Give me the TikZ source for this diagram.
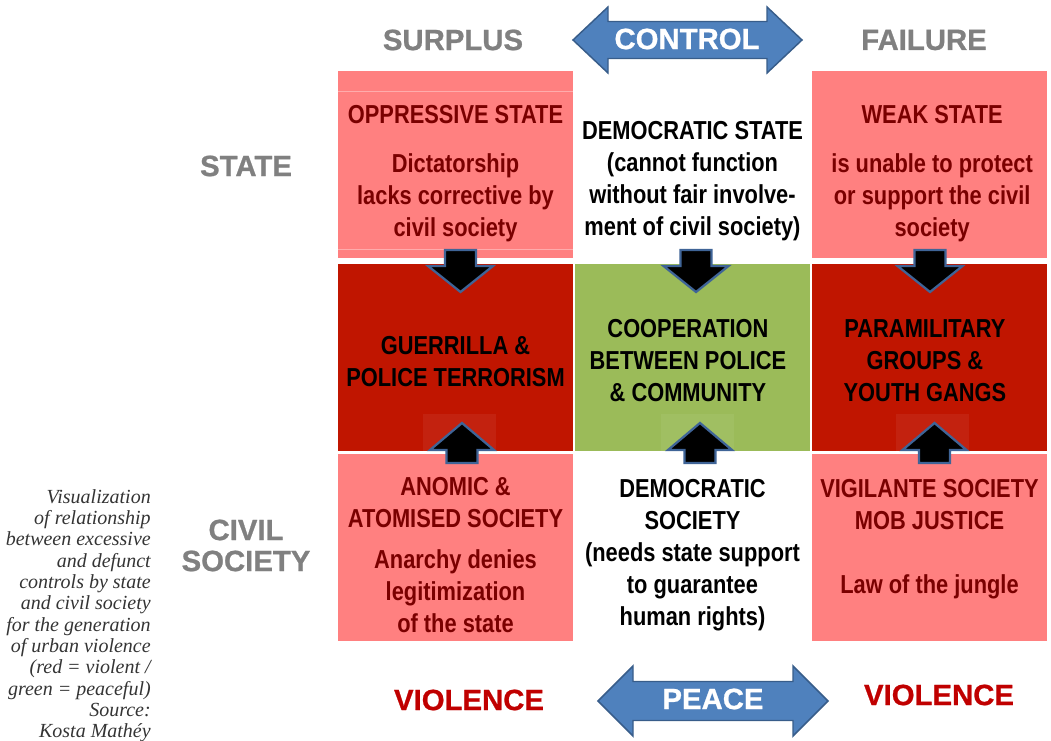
\documentclass[tikz,border=0pt]{standalone}
\usepackage{fontspec}
\setmainfont{Liberation Sans}
\newfontfamily\narrowfont[FakeStretch=0.84]{Liberation Sans}
\newfontfamily\headfont[BoldFeatures={FakeBold=0.8}]{Liberation Sans}
\newfontfamily\notefont{Liberation Serif}
\usepackage{tikz}
\usetikzlibrary{matrix,positioning,calc}

\definecolor{softred}{RGB}{255,128,128}
\definecolor{hardred}{RGB}{192,21,0}
\definecolor{calmgreen}{RGB}{155,187,89}
\definecolor{darkwine}{RGB}{122,0,0}
\definecolor{violred}{RGB}{192,0,0}
\definecolor{headgray}{RGB}{128,128,128}
\definecolor{arrowblue}{RGB}{79,129,189}
\definecolor{arrowedge}{RGB}{56,93,138}
\definecolor{tipedge}{RGB}{63,100,151}
\definecolor{notegray}{RGB}{52,52,52}
\definecolor{seamred}{RGB}{255,172,172}

\tikzset{
  cellbox/.style={minimum width=176.25pt, minimum height=140.25pt, inner sep=0pt, outer sep=0pt, anchor=center},
  softcell/.style={fill=softred},
  hardcell/.style={fill=hardred},
  calmcell/.style={fill=calmgreen},
  plaincell/.style={fill=white},
  celltext/.style={align=center, inner sep=0pt, font=\narrowfont\bfseries\fontsize{19.5}{24}\selectfont},
  headline/.style={align=center, inner sep=0pt, font=\headfont\bfseries\fontsize{22}{23.25}\selectfont},
  note/.style={align=right, inner sep=0pt, text=notegray, font=\notefont\itshape\fontsize{15}{16}\selectfont},
  bigarrow/.style={fill=arrowblue, draw=arrowedge, line width=1.1pt, line join=miter},
  tiparrow/.style={fill=black, draw=tipedge, line width=1.7pt, line join=miter},
  seam/.style={draw=seamred, line width=0.6pt},
}

\begin{document}
\begin{tikzpicture}[x=0.75pt, y=-0.75pt]
\useasboundingbox (0,0) rectangle (1051,741);

\matrix (m) [matrix of nodes, anchor=north west, inner sep=0pt, outer sep=0pt, column sep=1.5pt, row sep=2.25pt, nodes={cellbox}] at (338,71)
{
	|[softcell]| {} & |[plaincell]| {} & |[softcell]| {} \\[2.25pt]
	|[hardcell]| {} & |[calmcell]| {} & |[hardcell]| {} \\
	|[softcell]| {} & |[plaincell]| {} & |[softcell]| {} \\
};
\draw[seam] ([yshift=-15pt]m-1-1.north west) -- ([yshift=-15pt]m-1-1.north east);
\draw[seam] ([yshift=6.75pt]m-1-1.south west) -- ([yshift=6.75pt]m-1-1.south east);

\foreach \col/\dx in {1/5,2/3.5,3/0.5}
	\draw[tiparrow] ($(m-2-\col.north)+(\dx,28)$) -- ++(-32.5,-26) -- ++(17,0) -- ++(0,-16) -- ++(31,0) -- ++(0,16) -- ++(17,0) -- cycle;
\foreach \col/\dx in {1/6.5,2/7.5,3/5}{
	\fill[white, fill opacity=0.06] ($(m-3-\col.north)+(\dx-39,-40)$) rectangle ++(73,37);
	\draw[tiparrow] ($(m-3-\col.north)+(\dx,-31)$) -- ++(-32,27) -- ++(16.5,0) -- ++(0,13) -- ++(31,0) -- ++(0,-13) -- ++(16.5,0) -- cycle;
}

\node[celltext, text=darkwine, below=25.5pt of m-1-1.north] (oppressive) {OPPRESSIVE STATE\\[12.75pt]Dictatorship\\lacks corrective by\\civil society};
\node[celltext, below=37.5pt of m-1-2.north] (demstate) {DEMOCRATIC STATE\\(cannot function\\without fair involve-\\ment of civil society)};
\node[celltext, text=darkwine, below=25.5pt of m-1-3.north, xshift=2pt] (weak) {WEAK STATE\\[12.75pt]is unable to protect\\or support the civil\\society};
\node[celltext, below=54pt of m-2-1.north] (guerrilla) {GUERRILLA \&\\POLICE TERRORISM};
\node[celltext, below=41.25pt of m-2-2.north, xshift=-3.4pt] (cooperation) {COOPERATION\\BETWEEN POLICE\\\& COMMUNITY};
\node[celltext, below=41.25pt of m-2-3.north, xshift=-3.4pt] (paramilitary) {PARAMILITARY\\GROUPS \&\\YOUTH GANGS};
\node[celltext, text=darkwine, below=17.25pt of m-3-1.north] (anomic) {ANOMIC \&\\ATOMISED SOCIETY\\[6.75pt]Anarchy denies\\legitimization\\of the state};
\node[celltext, below=18.75pt of m-3-2.north] (demsociety) {DEMOCRATIC\\SOCIETY\\(needs state support\\to guarantee\\human rights)};
\node[celltext, text=darkwine, below=18.75pt of m-3-3.north] (vigilante) {VIGILANTE SOCIETY\\MOB JUSTICE\\[24pt]Law of the jungle};

\draw[bigarrow] (573,40) -- ++(35,-33) -- ++(0,14.5) -- ++(159,0) -- ++(0,-14.5) -- ++(35,33) -- ++(-35,33) -- ++(0,-14.5) -- ++(-159,0) -- ++(0,14.5) -- cycle;
\draw[bigarrow] (598,701) -- ++(35,-35) -- ++(0,15.5) -- ++(160,0) -- ++(0,-15.5) -- ++(35,35) -- ++(-35,35) -- ++(0,-15.5) -- ++(-160,0) -- ++(0,15.5) -- cycle;

\node[headline, text=white] (control) at (687,39) {CONTROL};
\node[headline, text=white] (peace) at (713,699) {PEACE};
\node[headline, text=headgray] (surplus) at (453,40) {SURPLUS};
\node[headline, text=headgray] (failure) at (924,40) {FAILURE};
\node[headline, text=headgray] (statelabel) at (246,166) {STATE};
\node[headline, text=headgray] (civillabel) at (246,545.5) {CIVIL\\SOCIETY};
\node[headline, text=violred] (violenceleft) at (469,700) {VIOLENCE};
\node[headline, text=violred] (violenceright) at (939,695) {VIOLENCE};

\node[note, anchor=north east] (caption) at (151,489) {Visualization\\of relationship\\between excessive\\and defunct\\controls by state\\and civil society\\for the generation\\of urban violence\\(red = violent /\\green = peaceful)\\Source:\\Kosta Mathéy};
\end{tikzpicture}
\end{document}
